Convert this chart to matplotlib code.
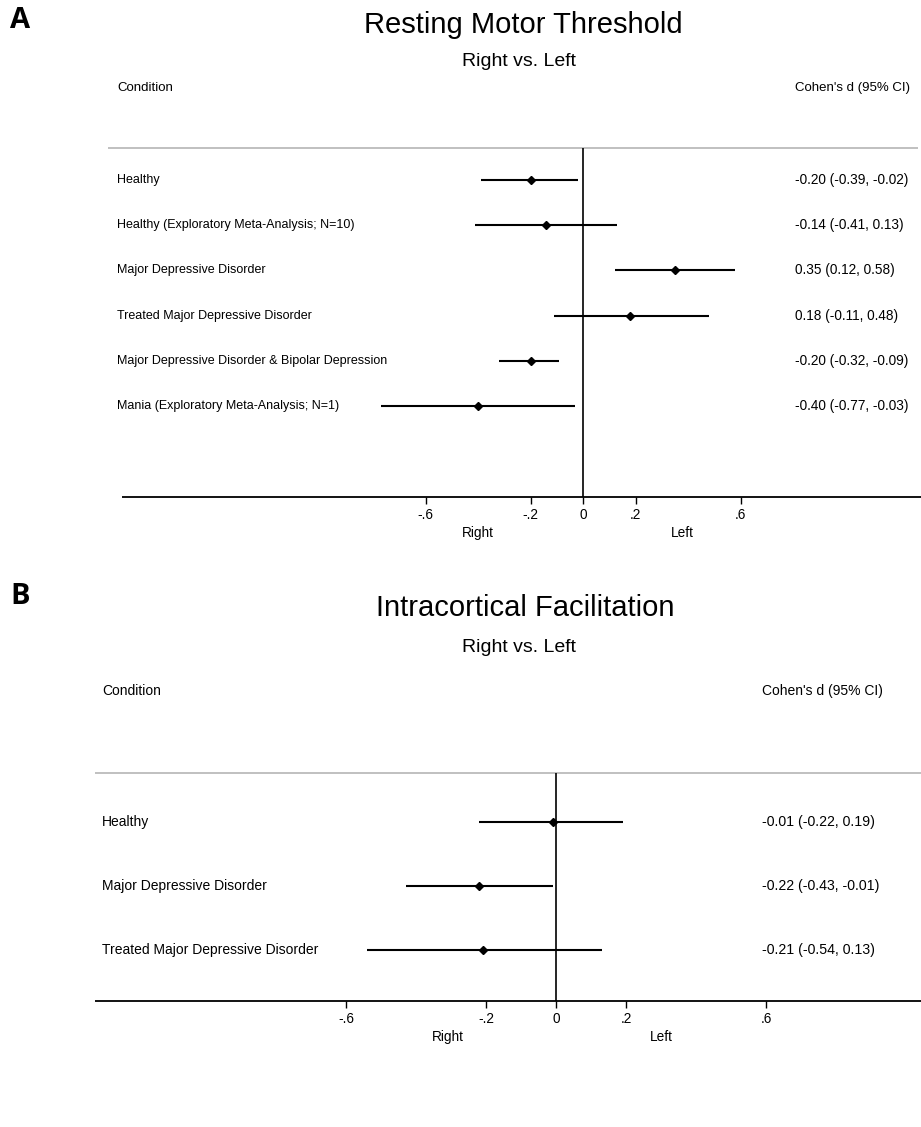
import matplotlib.pyplot as plt
import matplotlib.transforms as mtransforms

plt.rcParams['font.family'] = ['Liberation Sans', 'DejaVu Sans']

# Panel A: Resting Motor Threshold
conditions_a = [
    "Healthy",
    "Healthy (Exploratory Meta-Analysis; N=10)",
    "Major Depressive Disorder",
    "Treated Major Depressive Disorder",
    "Major Depressive Disorder & Bipolar Depression",
    "Mania (Exploratory Meta-Analysis; N=1)",
]
d_a = [-0.20, -0.14, 0.35, 0.18, -0.20, -0.40]
lo_a = [-0.39, -0.41, 0.12, -0.11, -0.32, -0.77]
hi_a = [-0.02, 0.13, 0.58, 0.48, -0.09, -0.03]

# Panel B: Intracortical Facilitation
conditions_b = [
    "Healthy",
    "Major Depressive Disorder",
    "Treated Major Depressive Disorder",
]
d_b = [-0.01, -0.22, -0.21]
lo_b = [-0.22, -0.43, -0.54]
hi_b = [0.19, -0.01, 0.13]

ticks = [-0.6, -0.2, 0, 0.2, 0.6]
tick_labels = ["-.6", "-.2", "0", ".2", ".6"]

W, H = 921, 1127
fig = plt.figure(figsize=(W / 100, H / 100), dpi=100)


def panel(top, bottom, zero_px, scale, ylims, conditions, d, lo, hi,
          lab_x, ci_x, grey_span, axis_span, right_x, left_x, fs_lab, fs_ci):
    ax = fig.add_axes([0, 1 - bottom / H, 1, (bottom - top) / H])
    ax.set_xlim(-zero_px / scale, (W - zero_px) / scale)
    ax.set_ylim(*ylims)
    for s in ax.spines.values():
        s.set_visible(False)
    ax.set_yticks([])
    ax.set_xticks(ticks)
    ax.set_xticklabels(tick_labels, fontsize=9.8)
    ax.tick_params(axis='x', length=5, width=1, pad=3)
    # bottom axis line and grey header line
    ax.plot([axis_span[0] / W, axis_span[1] / W], [0, 0], transform=ax.transAxes,
            color='black', lw=1.3, clip_on=False, solid_capstyle='butt')
    ax.plot([grey_span[0] / W, grey_span[1] / W], [1, 1], transform=ax.transAxes,
            color='#bbbbbb', lw=1.3, clip_on=False, solid_capstyle='butt')
    ax.axvline(0, color='black', lw=1.2)
    tr = mtransforms.blended_transform_factory(fig.transFigure, ax.transData)
    for i, c in enumerate(conditions):
        ax.plot([lo[i], hi[i]], [i, i], color='black', lw=1.5, solid_capstyle='butt')
        ax.plot(d[i], i, marker='D', color='black', markersize=4.5)
        ax.text(lab_x / W, i, c, transform=tr, fontsize=fs_lab, va='center', ha='left')
        ax.text(ci_x / W, i, f"{d[i]:.2f} ({lo[i]:.2f}, {hi[i]:.2f})", transform=tr,
                fontsize=fs_ci, va='center', ha='left')
    bt = mtransforms.blended_transform_factory(ax.transData, ax.transAxes)
    for x, s in [(right_x, "Right"), (left_x, "Left")]:
        ax.annotate(s, (x, 0), xycoords=bt, xytext=(0, -26), textcoords='offset points',
                    fontsize=9.8, ha='center', va='center')
    return ax


panel(148, 497, 583, 262.5, (7.0, -0.7), conditions_a, d_a, lo_a, hi_a,
      117, 795, (108, 918), (122, 921), -0.40, 0.38, 9, 9.8)
panel(773, 1001, 556, 350.0, (2.8, -0.77), conditions_b, d_b, lo_b, hi_b,
      102, 762, (95, 921), (95, 921), -0.31, 0.30, 10, 10.2)

# titles and headers
fig.text(523 / W, 1 - 25 / H, "Resting Motor Threshold", fontsize=21, ha='center', va='center')
fig.text(519 / W, 1 - 62 / H, "Right vs. Left", fontsize=14, ha='center', va='center')
fig.text(117 / W, 1 - 88 / H, "Condition", fontsize=9.5, ha='left', va='center')
fig.text(795 / W, 1 - 88 / H, "Cohen's d (95% CI)", fontsize=9.5, ha='left', va='center')

fig.text(525 / W, 1 - 608 / H, "Intracortical Facilitation", fontsize=21, ha='center', va='center')
fig.text(519 / W, 1 - 648 / H, "Right vs. Left", fontsize=14, ha='center', va='center')
fig.text(102 / W, 1 - 691 / H, "Condition", fontsize=10, ha='left', va='center')
fig.text(762 / W, 1 - 691 / H, "Cohen's d (95% CI)", fontsize=10, ha='left', va='center')

fig.text(10 / W, 1 - 21 / H, "A", fontsize=21, fontweight='bold', family='Open Sans',
         ha='left', va='center')
fig.text(10 / W, 1 - 596 / H, "B", fontsize=21, fontweight='bold', family='Open Sans',
         ha='left', va='center')

fig.savefig("out.png", dpi=100)
